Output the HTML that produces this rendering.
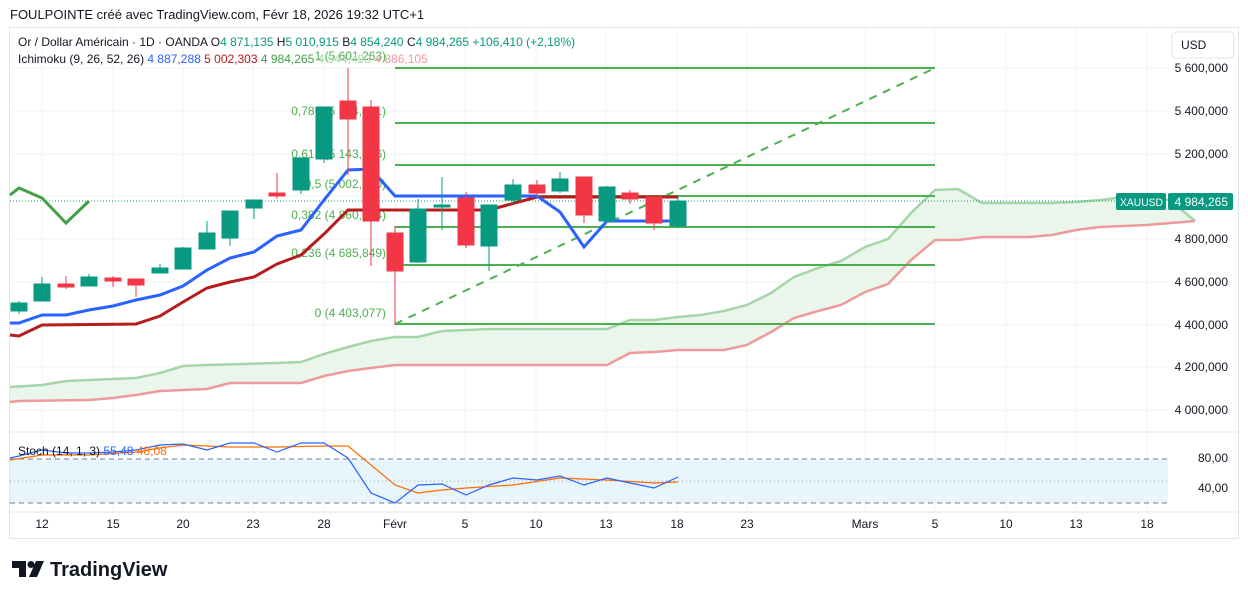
<!DOCTYPE html>
<html><head><meta charset="utf-8"><style>
body{margin:0;background:#fff;width:1248px;height:599px;overflow:hidden;font-family:"Liberation Sans",sans-serif}
svg text{font-family:"Liberation Sans",sans-serif}
</style></head><body>
<svg width="1248" height="599" xmlns="http://www.w3.org/2000/svg">
<text x="10" y="19" font-size="13" fill="#131722">FOULPOINTE créé avec TradingView.com, Févr 18, 2026 19:32 UTC+1</text>
<rect x="9.5" y="27.5" width="1229" height="511" fill="none" stroke="#e0e3eb"/>
<g stroke="#f2f3f5" stroke-width="1">
<line x1="42" y1="28" x2="42" y2="512"/><line x1="113" y1="28" x2="113" y2="512"/><line x1="183" y1="28" x2="183" y2="512"/><line x1="253" y1="28" x2="253" y2="512"/><line x1="324" y1="28" x2="324" y2="512"/><line x1="395" y1="28" x2="395" y2="512"/><line x1="465" y1="28" x2="465" y2="512"/><line x1="536" y1="28" x2="536" y2="512"/><line x1="606" y1="28" x2="606" y2="512"/><line x1="677" y1="28" x2="677" y2="512"/><line x1="747" y1="28" x2="747" y2="512"/><line x1="865" y1="28" x2="865" y2="512"/><line x1="935" y1="28" x2="935" y2="512"/><line x1="1006" y1="28" x2="1006" y2="512"/><line x1="1076" y1="28" x2="1076" y2="512"/><line x1="1147" y1="28" x2="1147" y2="512"/>
<line x1="10" y1="68" x2="1168" y2="68"/><line x1="10" y1="111" x2="1168" y2="111"/><line x1="10" y1="154" x2="1168" y2="154"/><line x1="10" y1="196" x2="1168" y2="196"/><line x1="10" y1="239" x2="1168" y2="239"/><line x1="10" y1="282" x2="1168" y2="282"/><line x1="10" y1="325" x2="1168" y2="325"/><line x1="10" y1="367" x2="1168" y2="367"/><line x1="10" y1="410" x2="1168" y2="410"/>
</g>
<polygon fill="#e8f5e9" opacity="0.9" points="10,387 42,385 66,381 113,379 136,378 160,373 183,366 207,365 277,363 301,362 324,354 348,347 371,341 395,337 418,337 442,331 489,329 537,329 607,329 630,320 654,320 678,317 701,315 724,311 747,305 771,293 794,277 818,268 841,261 865,247 888,239 911,213 935,190 958,189 982,203 1006,203 1052,203 1076,202 1100,200 1124,197 1170,203 1195,221 1195,221 1147,225 1100,227 1076,230 1052,235 1029,237 982,237 958,240 935,240 911,260 888,284 865,292 841,305 818,311 794,318 771,332 747,345 724,350 678,350 654,352 630,353 607,365 395,365 371,368 348,371 324,376 301,383 230,383 207,389 183,390 160,391 136,395 113,398 89,400 19,401 10,402"/>
<polyline fill="none" stroke="#a5d6a7" stroke-width="2.5" points="10,387 42,385 66,381 113,379 136,378 160,373 183,366 207,365 277,363 301,362 324,354 348,347 371,341 395,337 418,337 442,331 489,329 537,329 607,329 630,320 654,320 678,317 701,315 724,311 747,305 771,293 794,277 818,268 841,261 865,247 888,239 911,213 935,190 958,189 982,203 1006,203 1052,203 1076,202 1100,200 1124,197 1170,200 1195,221"/>
<polyline fill="none" stroke="#ef9a9a" stroke-width="2.5" points="10,402 19,401 89,400 113,398 136,395 160,391 183,390 207,389 230,383 301,383 324,376 348,371 371,368 395,365 607,365 630,353 654,352 678,350 724,350 747,345 771,332 794,318 818,311 841,305 865,292 888,284 911,260 935,240 958,240 982,237 1029,237 1052,235 1076,230 1100,227 1147,225 1195,221"/>
<g stroke="#4caf50" stroke-width="2">
<line x1="395" y1="68" x2="935" y2="68"/><line x1="395" y1="123" x2="935" y2="123"/><line x1="395" y1="165" x2="935" y2="165"/><line x1="395" y1="196" x2="935" y2="196"/><line x1="395" y1="227" x2="935" y2="227"/><line x1="395" y1="265" x2="935" y2="265"/><line x1="395" y1="324" x2="935" y2="324"/>
<line x1="395" y1="324" x2="935" y2="68" stroke-dasharray="8,7"/>
</g>
<g font-size="12" fill="#4caf50" text-anchor="end">
<text x="386" y="60">1 (5 601,263)</text><text x="386" y="115">0,786 (5 384,281)</text><text x="386" y="158">0,618 (5 143,556)</text><text x="386" y="188">0,5 (5 002,170)</text><text x="386" y="219">0,382 (4 860,784)</text><text x="386" y="257">0,236 (4 685,849)</text><text x="386" y="317">0 (4 403,077)</text>
</g>
<line x1="10" y1="201" x2="1168" y2="201" stroke="#089981" stroke-dasharray="1,2"/>
<polyline fill="none" stroke="#43a047" stroke-width="3" points="10,195 19,188 42,198 66,223 89,201"/>
<polyline fill="none" stroke="#b71c1c" stroke-width="3" points="10,335 19,336 42,325 136,324 160,316 183,302 207,288 230,282 254,277 277,264 301,255 324,234 348,210 371,210 489,210 537,197 678,197"/>
<polyline fill="none" stroke="#2962ff" stroke-width="3" points="10,323 19,323 42,315 66,315 89,310 113,306 136,300 160,295 183,286 207,270 230,258 254,252 277,236 301,230 324,200 348,170 371,169 395,196 537,196 560,212 584,247 607,221 678,221"/>
<g stroke="#089981" fill="#089981">
<line x1="19" y1="301" x2="19" y2="314"/><rect x="11" y="303" width="16" height="8"/>
<line x1="42" y1="277" x2="42" y2="301"/><rect x="34" y="284" width="16" height="17"/>
<line x1="89" y1="274" x2="89" y2="286"/><rect x="81" y="277" width="16" height="9"/>
<line x1="160" y1="264" x2="160" y2="273"/><rect x="152" y="268" width="16" height="5"/>
<line x1="183" y1="247" x2="183" y2="269"/><rect x="175" y="248" width="16" height="21"/>
<line x1="207" y1="221" x2="207" y2="249"/><rect x="199" y="233" width="16" height="16"/>
<line x1="230" y1="211" x2="230" y2="246"/><rect x="222" y="211" width="16" height="27"/>
<line x1="254" y1="200" x2="254" y2="219"/><rect x="246" y="200" width="16" height="8"/>
<line x1="301" y1="158" x2="301" y2="194"/><rect x="293" y="158" width="16" height="32"/>
<line x1="324" y1="107" x2="324" y2="163"/><rect x="316" y="107" width="16" height="52"/>
<line x1="418" y1="199" x2="418" y2="263"/><rect x="410" y="209" width="16" height="53"/>
<line x1="442" y1="177" x2="442" y2="230"/><rect x="434" y="205" width="16" height="2"/>
<line x1="489" y1="205" x2="489" y2="271"/><rect x="481" y="205" width="16" height="41"/>
<line x1="513" y1="179" x2="513" y2="204"/><rect x="505" y="185" width="16" height="15"/>
<line x1="560" y1="172" x2="560" y2="193"/><rect x="552" y="179" width="16" height="12"/>
<line x1="607" y1="186" x2="607" y2="223"/><rect x="599" y="187" width="16" height="34"/>
<line x1="678" y1="196" x2="678" y2="228"/><rect x="670" y="201" width="16" height="25"/>
</g>
<g stroke="#f23645" fill="#f23645">
<line x1="66" y1="276" x2="66" y2="289"/><rect x="58" y="284" width="16" height="3"/>
<line x1="113" y1="276" x2="113" y2="287"/><rect x="105" y="278" width="16" height="3"/>
<line x1="136" y1="279" x2="136" y2="297"/><rect x="128" y="279" width="16" height="6"/>
<line x1="277" y1="173" x2="277" y2="199"/><rect x="269" y="193" width="16" height="3"/>
<line x1="348" y1="68" x2="348" y2="175"/><rect x="340" y="101" width="16" height="18"/>
<line x1="371" y1="100" x2="371" y2="266"/><rect x="363" y="107" width="16" height="114"/>
<line x1="395" y1="226" x2="395" y2="325"/><rect x="387" y="233" width="16" height="38"/>
<line x1="466" y1="192" x2="466" y2="248"/><rect x="458" y="198" width="16" height="47"/>
<line x1="537" y1="180" x2="537" y2="197"/><rect x="529" y="185" width="16" height="8"/>
<line x1="584" y1="177" x2="584" y2="223"/><rect x="576" y="177" width="16" height="38"/>
<line x1="630" y1="190" x2="630" y2="204"/><rect x="622" y="193" width="16" height="6"/>
<line x1="654" y1="197" x2="654" y2="230"/><rect x="646" y="197" width="16" height="26"/>
</g>
<text x="18" y="46" font-size="12" fill="#131722">Or / Dollar Américain · 1D · OANDA <tspan fill="#131722">O</tspan><tspan fill="#089981">4 871,135</tspan> <tspan fill="#131722">H</tspan><tspan fill="#089981">5 010,915</tspan> <tspan fill="#131722">B</tspan><tspan fill="#089981">4 854,240</tspan> <tspan fill="#131722">C</tspan><tspan fill="#089981">4 984,265</tspan> <tspan fill="#089981">+106,410 (+2,18%)</tspan></text>
<text x="18" y="63" font-size="12" fill="#131722">Ichimoku (9, 26, 52, 26) <tspan fill="#2962ff">4 887,288</tspan> <tspan fill="#b71c1c">5 002,303</tspan> <tspan fill="#43a047">4 984,265</tspan> <tspan fill="#a5d6a7">4 944,493</tspan> <tspan fill="#ef9a9a">4 886,105</tspan></text>
<rect x="1172" y="32" width="62" height="26" rx="4" fill="#fff" stroke="#e0e3eb"/>
<text x="1181" y="49" font-size="12" fill="#131722">USD</text>
<g font-size="12" fill="#131722" text-anchor="end">
<text x="1228" y="72">5 600,000</text><text x="1228" y="115">5 400,000</text><text x="1228" y="158">5 200,000</text><text x="1228" y="243">4 800,000</text><text x="1228" y="286">4 600,000</text><text x="1228" y="329">4 400,000</text><text x="1228" y="371">4 200,000</text><text x="1228" y="414">4 000,000</text>
<text x="1228" y="462">80,00</text><text x="1228" y="492">40,00</text>
</g>
<rect x="1116" y="193" width="50" height="17" rx="2" fill="#089981"/>
<text x="1120" y="206" font-size="11" fill="#fff" textLength="43" lengthAdjust="spacingAndGlyphs">XAUUSD</text>
<rect x="1168" y="193" width="65" height="17" rx="2" fill="#089981"/>
<text x="1228" y="206" font-size="12" fill="#fff" text-anchor="end">4 984,265</text>
<line x1="10" y1="432" x2="1238" y2="432" stroke="#e0e3eb"/>
<rect x="10" y="459" width="1158" height="44" fill="#e3f2fd" opacity="0.8"/>
<g stroke="#787b86" stroke-dasharray="5,4" stroke-width="1">
<line x1="10" y1="459" x2="1168" y2="459"/><line x1="10" y1="503" x2="1168" y2="503"/></g>
<line x1="10" y1="481" x2="1168" y2="481" stroke="#787b86" stroke-dasharray="1,3" opacity="0.6"/>
<polyline fill="none" stroke="#ff6d00" stroke-width="1.2" points="10,460 42,455 89,455 136,452 160,448 183,445 230,447 277,447 324,446 348,446 371,465 395,485 418,493 442,490 466,488 513,485 560,478 607,480 654,483 678,482"/>
<polyline fill="none" stroke="#2962ff" stroke-width="1.2" points="10,458 19,456 42,450 66,453 89,453 113,452 136,450 160,445 183,444 207,450 230,443 254,443 277,452 301,443 324,443 348,458 371,493 395,503 418,485 442,484 466,495 489,485 513,478 537,480 560,476 584,485 607,478 630,483 654,488 678,477"/>
<text x="18" y="455" font-size="12" fill="#131722">Stoch (14, 1, 3) <tspan fill="#2962ff">55,48</tspan> <tspan fill="#ff6d00">48,08</tspan></text>
<line x1="10" y1="512" x2="1238" y2="512" stroke="#e0e3eb"/>
<g font-size="12" fill="#131722" text-anchor="middle">
<text x="42" y="528">12</text><text x="113" y="528">15</text><text x="183" y="528">20</text><text x="253" y="528">23</text><text x="324" y="528">28</text><text x="395" y="528">Févr</text><text x="465" y="528">5</text><text x="536" y="528">10</text><text x="606" y="528">13</text><text x="677" y="528">18</text><text x="747" y="528">23</text><text x="865" y="528">Mars</text><text x="935" y="528">5</text><text x="1006" y="528">10</text><text x="1076" y="528">13</text><text x="1147" y="528">18</text>
</g>
<g fill="#131722">
<path d="M12 561h14v16h-7v-9h-7z"/><circle cx="31" cy="564.5" r="3.5"/><path d="M36 561h8l-7 16h-8z"/>
</g>
<text x="50" y="576" font-size="20" font-weight="bold" fill="#131722">TradingView</text>
</svg>
</body></html>
